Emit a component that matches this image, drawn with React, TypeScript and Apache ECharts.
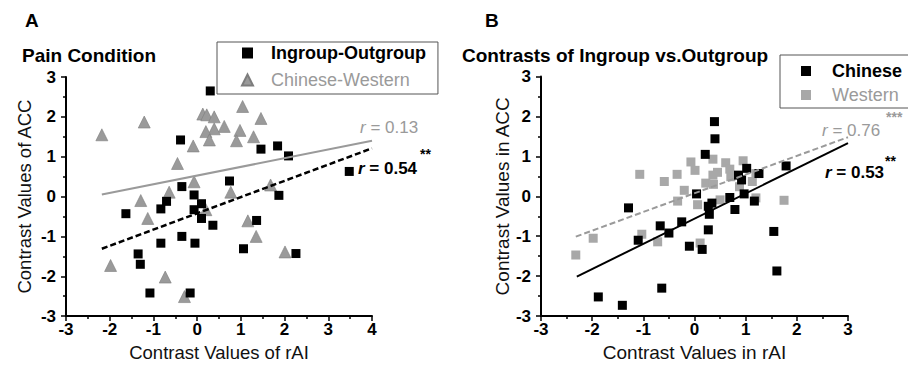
import React, { useEffect, useRef } from 'react';
import * as echarts from 'echarts';

const FONT = '"Liberation Sans", Arial, Helvetica, sans-serif';
const GRAY = '#9a9a9a';

// Panel A: Pain Condition
const ingroupOutgroupA: number[][] = [
  [0.30, 2.65], [-0.38, 1.42], [1.46, 1.19], [1.84, 1.27], [2.09, 1.02], [3.48, 0.63],
  [0.74, 0.39], [-0.35, 0.25], [1.87, 0.03], [-0.07, 0.04], [-0.70, -0.12], [0.10, -0.18],
  [-0.83, -0.31], [-1.63, -0.43], [-0.07, -0.33], [0.10, -0.55], [0.36, -0.72], [1.36, -0.60],
  [-0.35, -1.00], [-0.83, -1.17], [-0.05, -1.17], [1.06, -1.31], [-1.35, -1.44], [-1.30, -1.70],
  [2.26, -1.43], [-1.08, -2.42], [-0.16, -2.42],
];
const chineseWesternA: number[][] = [
  [-2.18, 1.55], [-1.21, 1.87], [0.13, 2.07], [0.22, 2.05], [0.39, 2.00], [1.04, 2.26],
  [1.46, 1.96], [0.62, 1.76], [0.39, 1.70], [0.20, 1.63], [0.98, 1.66], [1.29, 1.50],
  [0.28, 1.42], [0.90, 1.40], [-0.09, 1.27], [-0.45, 0.83], [-0.07, 0.37], [-0.64, 0.11],
  [0.77, 0.11], [1.68, 0.29], [-1.29, -0.10], [-1.13, -0.55], [0.20, -0.33], [1.16, -0.61],
  [1.35, -1.00], [2.01, -1.39], [-1.98, -1.73], [-0.73, -2.02], [-0.29, -2.51],
];
const fitA_IO: number[][] = [[-2.18, -1.31], [4, 1.21]];
const fitA_CW: number[][] = [[-2.18, 0.05], [4, 1.40]];

// Panel B: Contrasts of Ingroup vs. Outgroup
const chineseB: number[][] = [
  [0.39, 1.87], [0.40, 1.44], [0.21, 1.05], [1.02, 0.70], [1.26, 0.57], [0.86, 0.53],
  [0.92, 0.41], [1.79, 0.76], [-1.29, -0.29], [0.04, 0.06], [0.69, -0.03], [0.97, 0.06],
  [1.17, -0.12], [0.34, -0.17], [0.27, -0.25], [0.29, -0.45], [0.79, -0.33], [0.27, -0.84],
  [-0.25, -0.64], [-0.67, -0.74], [-0.50, -0.92], [-1.10, -1.10], [-0.10, -1.25], [0.15, -1.33],
  [1.55, -0.88], [1.61, -1.87], [-0.64, -2.30], [-1.88, -2.52], [-1.41, -2.73],
];
const westernB: number[][] = [
  [-2.32, -1.47], [-1.98, -1.05], [-1.07, 0.55], [-1.03, -0.95], [-0.72, -1.14], [-0.59, 0.37],
  [-0.34, 0.55], [-0.33, -0.12], [-0.20, 0.15], [-0.07, 0.86], [0.01, 0.65], [0.06, -0.21],
  [0.11, -1.17], [0.22, 0.33], [0.36, 0.93], [0.36, 0.53], [0.37, 0.30], [0.45, 0.60],
  [0.50, -0.09], [0.61, 0.84], [0.69, 0.68], [0.71, 0.49], [0.88, 0.24], [0.95, 0.89],
  [1.13, 0.37], [1.20, 0.57], [1.20, -0.04], [1.75, -0.10],
];
const fitB_C: number[][] = [[-2.3, -2.01], [3, 1.33]];
const fitB_W: number[][] = [[-2.32, -1.01], [3, 1.48]];

const xRangeA = [-3, 4];
const xRangeB = [-3, 3];
const yRange = [-3, 3];

function makeAxis(min: number, max: number, gridIndex: number, name: string, nameGap: number, isY: boolean, nameSize: number) {
  return {
    type: 'value',
    gridIndex,
    min,
    max,
    interval: 1,
    name,
    nameLocation: 'middle',
    nameGap,
    nameTextStyle: { fontFamily: FONT, fontSize: nameSize, color: '#111' },
    axisLine: { show: true, onZero: false, lineStyle: { color: '#000', width: 2 } },
    axisTick: { show: true, inside: false, length: 5, lineStyle: { color: '#000', width: 1.5 } },
    minorTick: { show: true, splitNumber: 2, length: 3, lineStyle: { color: '#000', width: 1.5 } },
    splitLine: { show: false },
    minorSplitLine: { show: false },
    axisLabel: {
      fontFamily: FONT,
      fontSize: 17,
      fontWeight: 'bold',
      color: '#000',
      margin: isY ? 10 : 5,
    },
  };
}

export default function App() {
  const ref = useRef<HTMLDivElement>(null);
  useEffect(() => {
    document.body.style.margin = '0';
    if (!ref.current) return;
    const chart = echarts.init(ref.current, undefined, { renderer: 'svg' });
    const rText = (x: number, y: number, val: string, color: string, bold: boolean) => ({
      type: 'text',
      x,
      y,
      style: {
        text: `{i|r}{n| = ${val}}`,
        verticalAlign: 'middle',
        align: 'left',
        rich: {
          i: { fontFamily: FONT, fontSize: 17, fontStyle: 'italic', fontWeight: bold ? 'bold' : 'normal', fill: color },
          n: { fontFamily: FONT, fontSize: 17, fontWeight: bold ? 'bold' : 'normal', fill: color },
        },
      },
      z: 100,
    });
    const star = (x: number, y: number, txt: string, color: string) => ({
      type: 'text',
      x,
      y,
      style: { text: txt, fontFamily: FONT, fontSize: 14, fontWeight: 'bold', fill: color, verticalAlign: 'middle', align: 'left' },
      z: 100,
    });
    const heading = (x: number, y: number, txt: string) => ({
      type: 'text',
      x,
      y,
      style: { text: txt, fontFamily: FONT, fontSize: 19, fontWeight: 'bold', fill: '#000', verticalAlign: 'middle', align: 'left' },
    });

    chart.setOption({
      animation: false,
      backgroundColor: '#fff',
      grid: [
        { left: 66, top: 77, width: 306, height: 245, containLabel: false },
        { left: 541, top: 76.5, width: 307, height: 244, containLabel: false },
      ],
      xAxis: [
        makeAxis(xRangeA[0], xRangeA[1], 0, 'Contrast Values of rAI', 25, false, 18.5),
        makeAxis(xRangeB[0], xRangeB[1], 1, 'Contrast Values in rAI', 26, false, 19),
      ],
      yAxis: [
        makeAxis(yRange[0], yRange[1], 0, 'Contrast Values of ACC', 32, true, 18.5),
        makeAxis(yRange[0], yRange[1], 1, 'Contrast Values in ACC', 29, true, 19),
      ],
      legend: [
        {
          left: 217,
          top: 42,
          orient: 'vertical',
          padding: [1, 12, 4, 24],
          itemGap: 7,
          itemWidth: 11,
          itemHeight: 11,
          symbolKeepAspect: true,
          borderColor: '#555',
          borderWidth: 1,
          textStyle: { fontFamily: FONT, fontSize: 18, lineHeight: 20, padding: [0, 0, 0, 13] },
          data: [
            { name: 'Ingroup-Outgroup', icon: 'rect', itemStyle: { opacity: 1 }, textStyle: { fontWeight: 'bold', color: '#000' } },
            { name: 'Chinese-Western', icon: 'triangle', textStyle: { color: GRAY } },
          ],
        },
        {
          left: 780,
          top: 55,
          orient: 'vertical',
          padding: [6, 12, 3, 21],
          itemGap: 4,
          itemWidth: 10,
          itemHeight: 10,
          symbolKeepAspect: true,
          borderColor: '#555',
          borderWidth: 1,
          textStyle: { fontFamily: FONT, fontSize: 18, lineHeight: 20, padding: [0, 0, 0, 16] },
          data: [
            { name: 'Chinese', icon: 'rect', textStyle: { fontWeight: 'bold', color: '#000' } },
            { name: 'Western', icon: 'rect', textStyle: { color: GRAY } },
          ],
        },
      ],
      series: [
        {
          name: 'Chinese-Western',
          type: 'scatter',
          xAxisIndex: 0,
          yAxisIndex: 0,
          symbol: 'triangle',
          symbolSize: 12,
          itemStyle: { color: GRAY, borderColor: '#7d7d7d', borderWidth: 0.6, opacity: 1 },
          data: chineseWesternA,
          z: 2,
        },
        {
          name: 'Ingroup-Outgroup',
          type: 'scatter',
          xAxisIndex: 0,
          yAxisIndex: 0,
          symbol: 'rect',
          symbolSize: 9,
          itemStyle: { color: '#000', opacity: 1 },
          data: ingroupOutgroupA,
          z: 3,
        },
        {
          name: 'fitA_CW',
          type: 'line',
          xAxisIndex: 0,
          yAxisIndex: 0,
          showSymbol: false,
          symbol: 'none',
          lineStyle: { color: GRAY, width: 2, type: 'solid' },
          data: fitA_CW,
          z: 4,
        },
        {
          name: 'fitA_IO',
          type: 'line',
          xAxisIndex: 0,
          yAxisIndex: 0,
          showSymbol: false,
          symbol: 'none',
          lineStyle: { color: '#000', width: 2.5, type: [6, 3] },
          data: fitA_IO,
          z: 4,
        },
        {
          name: 'Western',
          type: 'scatter',
          xAxisIndex: 1,
          yAxisIndex: 1,
          symbol: 'rect',
          symbolSize: 9,
          itemStyle: { color: '#a8a8a8', opacity: 1 },
          data: westernB,
          z: 2,
        },
        {
          name: 'Chinese',
          type: 'scatter',
          xAxisIndex: 1,
          yAxisIndex: 1,
          symbol: 'rect',
          symbolSize: 9,
          itemStyle: { color: '#000', opacity: 1 },
          data: chineseB,
          z: 3,
        },
        {
          name: 'fitB_W',
          type: 'line',
          xAxisIndex: 1,
          yAxisIndex: 1,
          showSymbol: false,
          symbol: 'none',
          lineStyle: { color: GRAY, width: 2, type: [6, 3] },
          data: fitB_W,
          z: 4,
        },
        {
          name: 'fitB_C',
          type: 'line',
          xAxisIndex: 1,
          yAxisIndex: 1,
          showSymbol: false,
          symbol: 'none',
          lineStyle: { color: '#000', width: 2, type: 'solid' },
          data: fitB_C,
          z: 4,
        },
      ],
      graphic: [
        heading(25, 20, 'A'),
        heading(22, 55, 'Pain Condition'),
        heading(485, 20, 'B'),
        heading(462, 55, 'Contrasts of Ingroup vs.Outgroup'),
        rText(360, 127, '0.13', GRAY, false),
        rText(358, 168, '0.54', '#000', true),
        star(420, 154, '**', '#000'),
        rText(822, 130, '0.76', GRAY, false),
        star(886, 117, '***', GRAY),
        rText(825, 172, '0.53', '#000', true),
        star(885, 161, '**', '#000'),
      ],
    });
    return () => chart.dispose();
  }, []);
  return <div ref={ref} style={{ width: 908, height: 367 }} />;
}
